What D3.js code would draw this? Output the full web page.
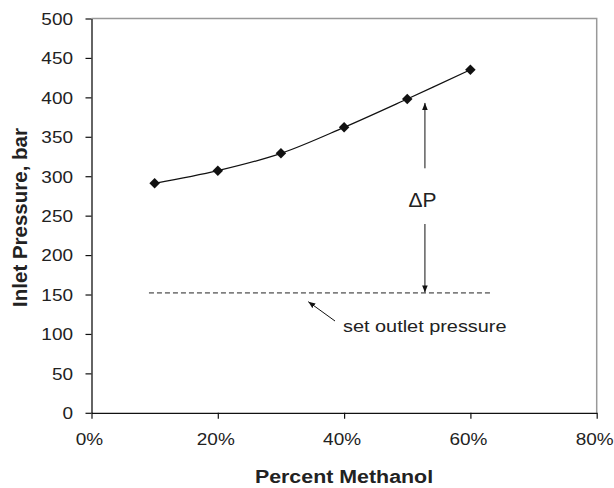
<!DOCTYPE html>
<html><head><meta charset="utf-8">
<script src="https://cdn.jsdelivr.net/npm/d3@7"></script>
<style>
body{margin:0;background:#fff;}
text{font-family:"Liberation Sans",Arial,sans-serif;fill:#222;}
</style></head>
<body>
<svg id="chart" width="614" height="488"></svg>
<script>
const methanolPct = [10, 20, 30, 40, 50, 60];
const inletPressure = [291, 307, 329, 362, 398, 435];
const outletPressure = 152;
const outletRange = [9.1, 63.3];
const deltaPx = 52.8;
const xTicks = [0, 20, 40, 60, 80];
const yTicks = [0, 50, 100, 150, 200, 250, 300, 350, 400, 450, 500];

const svg = d3.select("#chart");
const L = 91.5, R = 596.7, T = 18.5, B = 412.8;
const x = d3.scaleLinear().domain([0, 80]).range([L, R]);
const y = d3.scaleLinear().domain([0, 500]).range([B, T]);
const SX = 1.15;

// plot border (top/right gray)
svg.append("path")
  .attr("d", `M${L},${T}H${R}V${B}`)
  .attr("fill", "none").attr("stroke", "#999").attr("stroke-width", 1.5);

// axes
const yAx = svg.append("g").attr("transform", `translate(${L},0)`)
  .call(d3.axisLeft(y).tickValues(yTicks).tickSize(6).tickSizeOuter(0).tickFormat(d3.format("d")));
const xAx = svg.append("g").attr("transform", `translate(0,${B})`)
  .call(d3.axisBottom(x).tickValues(xTicks).tickSize(6).tickSizeOuter(0).tickFormat(d => d + "%"));
[yAx, xAx].forEach(g => {
  g.select(".domain").attr("stroke", "#111").attr("stroke-width", 1.3);
  g.selectAll(".tick line").attr("stroke", "#111").attr("stroke-width", 1.2);
  g.selectAll(".tick text").attr("font-size", 16.5).attr("fill", "#222")
   .attr("font-family", "Liberation Sans, Arial, sans-serif");
});
yAx.selectAll(".tick text").attr("x", 0).attr("dy", null)
  .attr("transform", `translate(-18.5,5.8) scale(${SX},1)`)
  .attr("text-anchor", "end").attr("y", 0);
xAx.selectAll(".tick text").attr("dy", null).attr("y", 0)
  .attr("transform", `translate(-2.5,32.5) scale(${SX},1)`);

// dashed outlet line
svg.append("line")
  .attr("x1", x(outletRange[0])).attr("x2", x(outletRange[1]))
  .attr("y1", y(outletPressure)).attr("y2", y(outletPressure))
  .attr("stroke", "#222").attr("stroke-width", 1).attr("stroke-dasharray", "5,3");

// curve
const pts = methanolPct.map((d, i) => [x(d), y(inletPressure[i])]);
svg.append("path")
  .attr("d", d3.line().curve(d3.curveCatmullRom.alpha(0.5))(pts))
  .attr("fill", "none").attr("stroke", "#111").attr("stroke-width", 1.2);

// markers
svg.selectAll(".mk").data(pts).join("path")
  .attr("transform", d => `translate(${d[0]},${d[1]}) rotate(45)`)
  .attr("d", d3.symbol(d3.symbolSquare, 55)())
  .attr("fill", "#111");

// arrow marker defs
const defs = svg.append("defs");
defs.append("marker").attr("id", "ah").attr("viewBox", "0 0 10 10")
  .attr("refX", 10).attr("refY", 5).attr("markerWidth", 7).attr("markerHeight", 7)
  .attr("markerUnits", "userSpaceOnUse").attr("orient", "auto")
  .append("path").attr("d", "M0,1L10,5L0,9Z").attr("fill", "#111");

// Delta P arrows
const ax = x(deltaPx);
svg.append("line").attr("x1", ax).attr("x2", ax).attr("y1", 168.3).attr("y2", y(inletPressure[4]) + 4)
  .attr("stroke", "#111").attr("stroke-width", 1).attr("marker-end", "url(#ah)");
svg.append("line").attr("x1", ax).attr("x2", ax).attr("y1", 224).attr("y2", y(outletPressure) - 0.5)
  .attr("stroke", "#111").attr("stroke-width", 1).attr("marker-end", "url(#ah)");
svg.append("text").attr("transform", `translate(422.5,207.3) scale(1.05,1)`)
  .attr("text-anchor", "middle").attr("font-size", 20).text("ΔP");

// outlet annotation
svg.append("line").attr("x1", 335).attr("y1", 321).attr("x2", 308.3).attr("y2", 301.7)
  .attr("stroke", "#111").attr("stroke-width", 1).attr("marker-end", "url(#ah)");
svg.append("text").attr("transform", `translate(343,332) scale(${SX},1)`)
  .attr("font-size", 17.3).text("set outlet pressure");

// axis titles
svg.append("text").attr("transform", `translate(344,483) scale(${SX},1)`)
  .attr("text-anchor", "middle").attr("font-size", 18.6).attr("font-weight", "bold")
  .text("Percent Methanol");
svg.append("text").attr("transform", `translate(26.7,217.5) rotate(-90)`)
  .attr("text-anchor", "middle").attr("font-size", 20.5).attr("font-weight", "bold")
  .text("Inlet Pressure, bar");
</script>
</body></html>
